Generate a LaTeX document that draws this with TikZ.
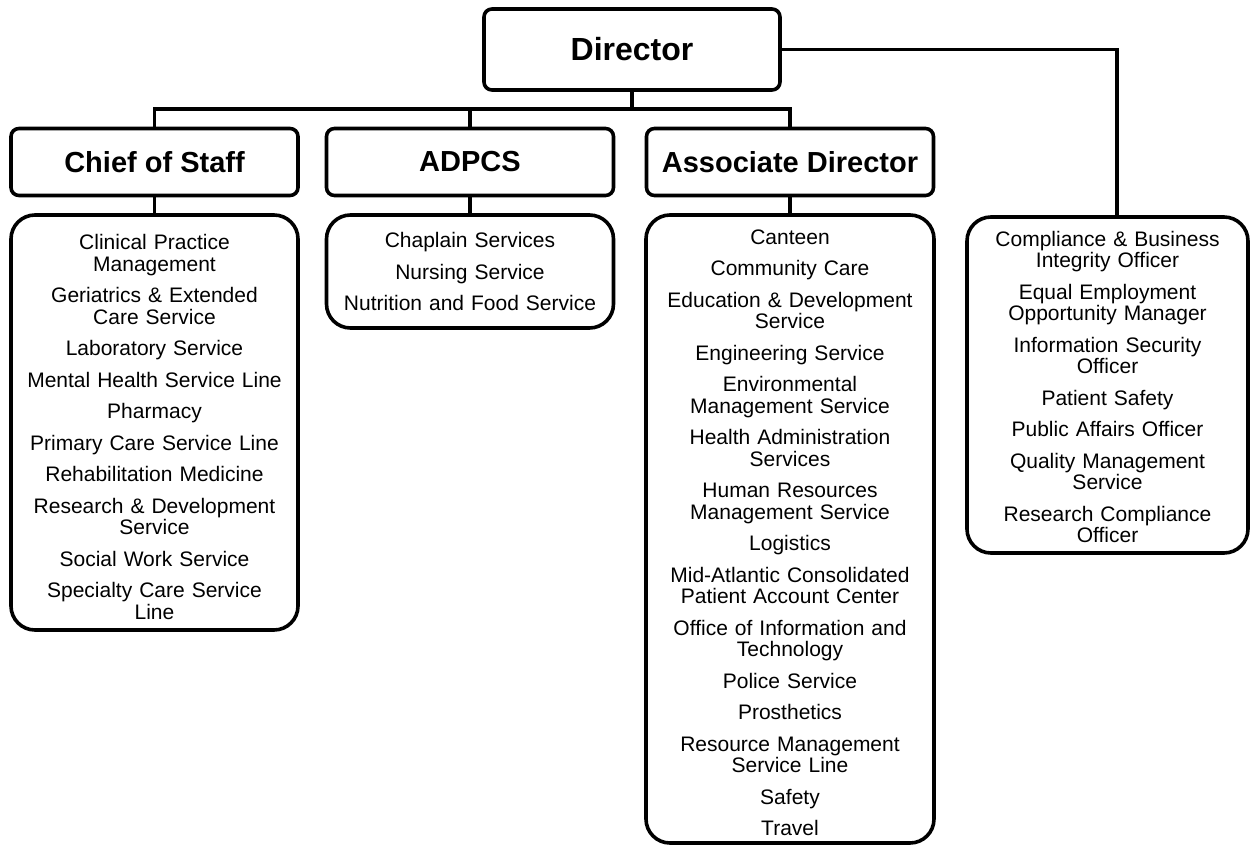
\documentclass[tikz,border=0pt]{standalone}
\usepackage{fontspec}
\setmainfont{Liberation Sans}
\begin{document}
\begin{tikzpicture}[x=1pt,y=-1pt,
  box/.style={draw=black, line width=3.6pt, fill=white, rounded corners=8pt,
    inner sep=0pt, align=center},
  headbox/.style={box, minimum width=287pt, minimum height=67pt,
    font=\fontsize{29}{32}\selectfont\bfseries},
  listbox/.style={box, rounded corners=24pt, text width=270pt,
    font=\fontsize{21}{21.5}\selectfont},
  conn/.style={line width=3.6pt}]
\useasboundingbox (0,0) rectangle (1254,852);

% top of the chart
\node[box, minimum width=296pt, minimum height=81pt,
  font=\fontsize{32}{36}\selectfont\bfseries] (dir) at (632,49.5) {Director};

% second level
\node[headbox] (chief) at (154.5,162) {Chief of Staff};
\node[headbox] (adpcs) at (470,162) {ADPCS};
\node[headbox] (assoc) at (790,162) {Associate Director};

% services under each office (the strut on the first line sets the top margin)
\node[listbox, minimum width=287pt, minimum height=415pt] (chieflist) at (154.5,422.5) {%
  \rule{0pt}{24pt}Clinical Practice\\Management\\[10pt]
  Geriatrics \& Extended\\Care Service\\[10pt]
  Laboratory Service\\[10pt]
  Mental Health Service Line\\[10pt]
  Pharmacy\\[10pt]
  Primary Care Service Line\\[10pt]
  Rehabilitation Medicine\\[10pt]
  Research \& Development\\Service\\[10pt]
  Social Work Service\\[10pt]
  Specialty Care Service\\Line};

\node[listbox, minimum width=287pt, minimum height=113pt] (adpcslist) at (470,271.5) {%
  Chaplain Services\\[10pt]
  Nursing Service\\[10pt]
  Nutrition and Food Service};

\node[listbox, minimum width=288pt, minimum height=628pt] (assoclist) at (790,529) {%
  \rule{0pt}{22pt}Canteen\\[10pt]
  Community Care\\[10pt]
  Education \& Development\\Service\\[10pt]
  Engineering Service\\[10pt]
  Environmental\\Management Service\\[10pt]
  Health Administration\\Services\\[10pt]
  Human Resources\\Management Service\\[10pt]
  Logistics\\[10pt]
  Mid-Atlantic Consolidated\\Patient Account Center\\[10pt]
  Office of Information and\\Technology\\[10pt]
  Police Service\\[10pt]
  Prosthetics\\[10pt]
  Resource Management\\Service Line\\[10pt]
  Safety\\[10pt]
  Travel};

\node[listbox, minimum width=281pt, minimum height=336pt] (stafflist) at (1107.5,385) {%
  \rule{0pt}{19pt}Compliance \& Business\\Integrity Officer\\[10pt]
  Equal Employment\\Opportunity Manager\\[10pt]
  Information Security\\Officer\\[10pt]
  Patient Safety\\[10pt]
  Public Affairs Officer\\[10pt]
  Quality Management\\Service\\[10pt]
  Research Compliance\\Officer};

% connectors
\coordinate (bus) at (632,109);
\coordinate (staffdrop) at (1117,217);
\draw[conn] (dir.south) -- (bus);
\draw[conn] (chief.north) |- (bus) -| (assoc.north);
\draw[conn] (adpcs.north) -- (adpcs.north |- bus);
\draw[conn] (dir.east) -| (staffdrop);
\draw[conn] (chief.south) -- (chieflist.north);
\draw[conn] (adpcs.south) -- (adpcslist.north);
\draw[conn] (assoc.south) -- (assoclist.north);
\end{tikzpicture}
\end{document}
